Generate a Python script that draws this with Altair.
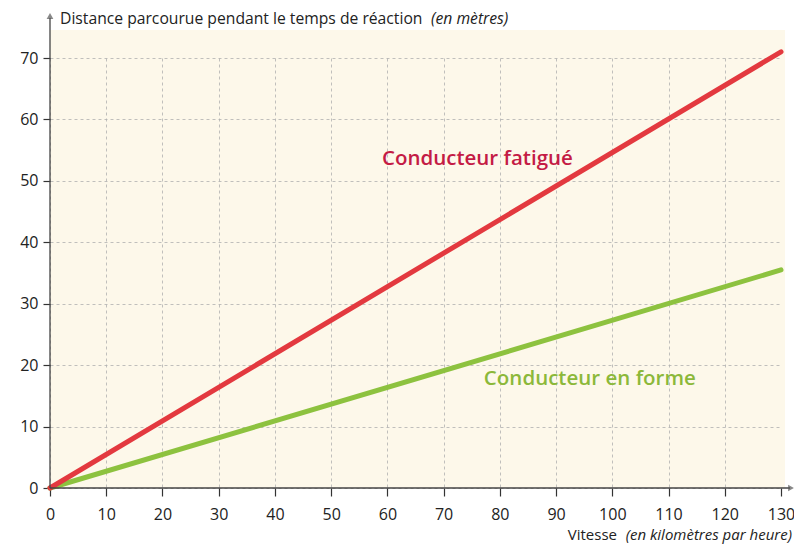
import altair as alt
import pandas as pd

# Data
speeds = [0, 130]
fatigue = [0, 71]
forme = [0, 35.5]
x_ticks = list(range(0, 131, 10))
y_ticks = list(range(0, 71, 10))

label_names = ["Conducteur fatigué", "Conducteur en forme"]
label_x = [76, 96]
label_y = [53.5, 17.8]
label_colors = ["#c41b45", "#8cb83a"]

W, H = 731, 430
FONT = "Open Sans"
CREAM = "#fdf8ea"

df_fat = pd.DataFrame({"v": speeds, "d": fatigue})
df_for = pd.DataFrame({"v": speeds, "d": forme})
df_lab = pd.DataFrame({"v": label_x, "d": label_y, "name": label_names, "col": label_colors})

xs = alt.Scale(domain=[0, 130], nice=False)
ys = alt.Scale(domain=[0, 70], nice=False)

base = alt.Chart(pd.DataFrame({"a": [0]}))

bg_top = base.mark_rect(color=CREAM).encode(
    x=alt.value(0), x2=alt.value(735), y=alt.value(-28), y2=alt.value(0)
)
bg_right = base.mark_rect(color=CREAM).encode(
    x=alt.value(W), x2=alt.value(735), y=alt.value(0), y2=alt.value(H)
)

axes = alt.Chart(df_fat).mark_line(opacity=0).encode(
    x=alt.X("v:Q", scale=xs, title=None,
            axis=alt.Axis(values=x_ticks, grid=True, gridDash=[3, 3], gridColor="#b0b0b0",
                          gridWidth=0.8, domain=False, tickSize=8, tickColor="#333",
                          tickWidth=1.2, labelPadding=10, labelFontSize=16,
                          labelColor="#222", labelFont=FONT, labelFlush=False)),
    y=alt.Y("d:Q", scale=ys, title=None,
            axis=alt.Axis(values=y_ticks, grid=True, gridDash=[3, 3], gridColor="#b0b0b0",
                          gridWidth=0.8, domain=False, tickSize=7, tickColor="#333",
                          tickWidth=1.2, labelPadding=5, labelFontSize=16,
                          labelColor="#222", labelFont=FONT)),
)

line_fat = alt.Chart(df_fat).mark_line(color="#e3393f", strokeWidth=5, strokeCap="round").encode(
    x=alt.X("v:Q", scale=xs), y=alt.Y("d:Q", scale=ys)
)
line_for = alt.Chart(df_for).mark_line(color="#8dc23f", strokeWidth=5, strokeCap="round").encode(
    x=alt.X("v:Q", scale=xs), y=alt.Y("d:Q", scale=ys)
)

labels = alt.Chart(df_lab).mark_text(font=FONT, fontSize=20.5, fontWeight=600).encode(
    x=alt.X("v:Q", scale=xs), y=alt.Y("d:Q", scale=ys),
    text="name:N", color=alt.Color("col:N", scale=None)
)

yaxis = base.mark_rule(color="#444", strokeWidth=1.3).encode(
    x=alt.value(0), y=alt.value(H), y2=alt.value(-40)
)
xaxis = base.mark_rule(color="#444", strokeWidth=1.3).encode(
    x=alt.value(0), x2=alt.value(740), y=alt.value(H)
)
yarrow = base.mark_point(shape="triangle-up", filled=True, color="#555", size=45).encode(
    x=alt.value(0), y=alt.value(-42)
)
xarrow = base.mark_point(shape="triangle-right", filled=True, color="#555", size=45).encode(
    x=alt.value(741), y=alt.value(H)
)

TS = 15.7
XTS = 15
ytitle1 = base.mark_text(text="Distance parcourue pendant le temps de réaction", font=FONT,
                         fontSize=TS, align="left", baseline="middle", color="#222").encode(
    x=alt.value(10), y=alt.value(-39)
)
ytitle2 = base.mark_text(text="(en mètres)", font=FONT, fontStyle="italic",
                         fontSize=TS, align="left", baseline="middle", color="#222").encode(
    x=alt.value(381), y=alt.value(-39)
)
xtitle1 = base.mark_text(text="Vitesse", font=FONT,
                         fontSize=XTS, align="right", baseline="middle", color="#222").encode(
    x=alt.value(567), y=alt.value(H + 47)
)
xtitle2 = base.mark_text(text="(en kilomètres par heure)", font=FONT, fontStyle="italic",
                         fontSize=XTS, align="right", baseline="middle", color="#222").encode(
    x=alt.value(742), y=alt.value(H + 47)
)

chart = alt.layer(
    bg_top, bg_right, axes, line_for, line_fat, labels, yaxis, xaxis, yarrow, xarrow,
    ytitle1, ytitle2, xtitle1, xtitle2
).properties(
    width=W, height=H,
    autosize=alt.AutoSizeParams(type="none"),
    padding={"left": 42, "top": 50, "right": 13, "bottom": 57},
    background="white",
).configure_view(stroke=None, fill=CREAM)

chart.save("out.html", embed_options={"renderer": "svg", "actions": False})
